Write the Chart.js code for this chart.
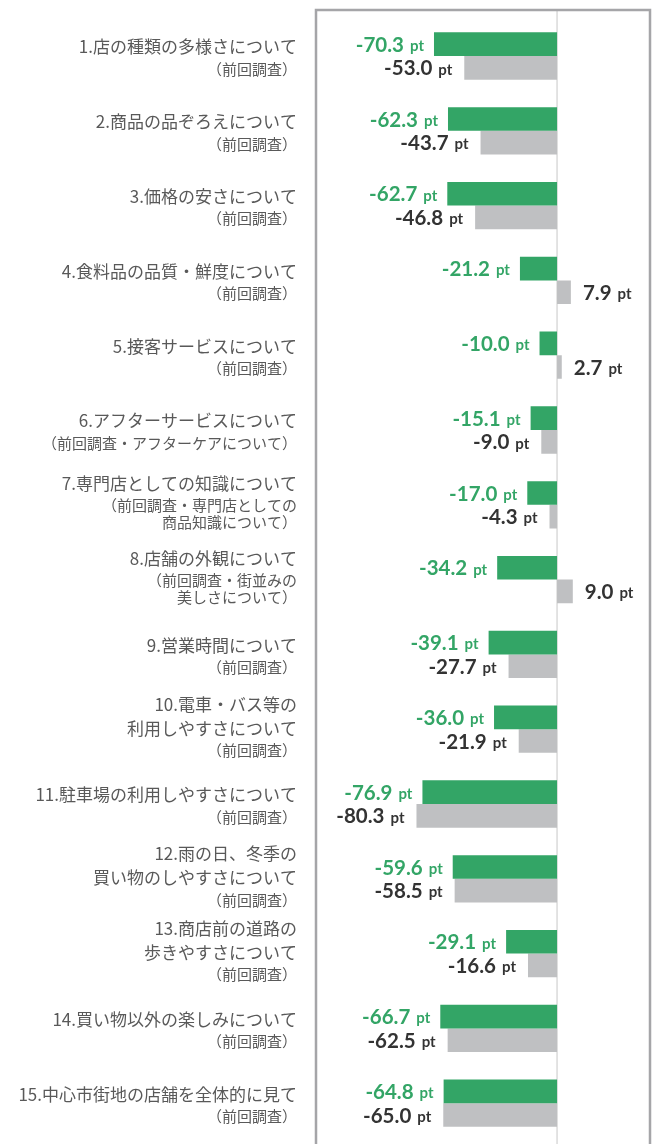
<!DOCTYPE html>
<html>
<head>
<meta charset="utf-8">
<script src="https://cdn.jsdelivr.net/npm/chart.js@4"></script>
<style>
    body { margin: 0; background: #ffffff; }
    canvas { display: block; }
</style>
</head>
<body>
<canvas id="chart" width="655" height="1144"></canvas>
<script>
// category labels (main line(s) and the "previous survey" sub line(s))
const mainLabels = [
    ["1.店の種類の多様さについて"],
    ["2.商品の品ぞろえについて"],
    ["3.価格の安さについて"],
    ["4.食料品の品質・鮮度について"],
    ["5.接客サービスについて"],
    ["6.アフターサービスについて"],
    ["7.専門店としての知識について"],
    ["8.店舗の外観について"],
    ["9.営業時間について"],
    ["10.電車・バス等の", "利用しやすさについて"],
    ["11.駐車場の利用しやすさについて"],
    ["12.雨の日、冬季の", "買い物のしやすさについて"],
    ["13.商店前の道路の", "歩きやすさについて"],
    ["14.買い物以外の楽しみについて"],
    ["15.中心市街地の店舗を全体的に見て"]
];
const subLabels = [
    ["（前回調査）"],
    ["（前回調査）"],
    ["（前回調査）"],
    ["（前回調査）"],
    ["（前回調査）"],
    ["（前回調査・アフターケアについて）"],
    ["（前回調査・専門店としての", "商品知識について）"],
    ["（前回調査・街並みの", "美しさについて）"],
    ["（前回調査）"],
    ["（前回調査）"],
    ["（前回調査）"],
    ["（前回調査）"],
    ["（前回調査）"],
    ["（前回調査）"],
    ["（前回調査）"]
];

// DI values (pt)
const currentValues = [-70.3, -62.3, -62.7, -21.2, -10.0, -15.1, -17.0, -34.2, -39.1, -36.0, -76.9, -59.6, -29.1, -66.7, -64.8];
const previousValues = [-53.0, -43.7, -46.8, 7.9, 2.7, -9.0, -4.3, 9.0, -27.7, -21.9, -80.3, -58.5, -16.6, -62.5, -65.0];

const GREEN = "#33a566";
const GRAY = "#bfc0c2";
const TEXT_GRAY = "#595959";
const VALUE_DARK = "#333333";

// frame around the plot + zero line
const framePlugin = {
    id: "frame",
    beforeDatasetsDraw(chart) {
        const { ctx, chartArea, scales } = chart;
        const x0 = scales.x.getPixelForValue(0);
        ctx.save();
        ctx.strokeStyle = "#dadada";
        ctx.lineWidth = 1.5;
        ctx.beginPath();
        ctx.moveTo(x0, 11);
        ctx.lineTo(x0, chart.height);
        ctx.stroke();

        ctx.strokeStyle = "#a5a5a8";
        ctx.lineWidth = 2.5;
        ctx.beginPath();
        ctx.moveTo(chartArea.left, chart.height);
        ctx.lineTo(chartArea.left, 10);
        ctx.lineTo(chartArea.right, 10);
        ctx.lineTo(chartArea.right, chart.height);
        ctx.stroke();
        ctx.restore();
    }
};

// value labels "-70.3 pt" next to each bar
const valueLabelPlugin = {
    id: "valueLabels",
    afterDatasetsDraw(chart) {
        const { ctx } = chart;
        ctx.save();
        ctx.textBaseline = "middle";
        chart.data.datasets.forEach(function(ds, di) {
            const meta = chart.getDatasetMeta(di);
            meta.data.forEach(function(bar, i) {
                const v = ds.data[i];
                const num = v.toFixed(1);
                ctx.fillStyle = di === 0 ? GREEN : VALUE_DARK;
                const numFont = "bold 20.5px Lato";
                const ptFont = "bold 15px Lato";
                ctx.font = ptFont;
                const ptW = ctx.measureText("pt").width;
                ctx.font = numFont;
                const numW = ctx.measureText(num).width;
                const y = bar.y + 1;
                if (v < 0) {
                    const gap = di === 0 ? 10 : 12;
                    const right = bar.x - gap;
                    ctx.textAlign = "right";
                    ctx.font = ptFont;
                    ctx.fillText("pt", right, y + 1);
                    ctx.font = numFont;
                    ctx.fillText(num, right - ptW - 6, y);
                } else {
                    const left = bar.x + 12;
                    ctx.textAlign = "left";
                    ctx.font = numFont;
                    ctx.fillText(num, left, y);
                    ctx.font = ptFont;
                    ctx.fillText("pt", left + numW + 6, y + 1);
                }
            });
        });
        ctx.restore();
    }
};

// category labels on the left, two font sizes
const categoryLabelPlugin = {
    id: "categoryLabels",
    afterDraw(chart) {
        const { ctx, scales } = chart;
        const right = 297;
        ctx.save();
        ctx.textAlign = "right";
        ctx.textBaseline = "middle";
        ctx.fillStyle = TEXT_GRAY;
        mainLabels.forEach(function(main, i) {
            const c = scales.y.getPixelForValue(i);
            const lines = main.map(t => ({ text: t, sub: false }))
                .concat(subLabels[i].map(t => ({ text: t, sub: true })));
            // offsets between line centres
            const ys = [0];
            for (let k = 1; k < lines.length; k++) {
                let step = 24;
                if (lines[k].sub && !lines[k - 1].sub) step = 22;
                if (lines[k].sub && lines[k - 1].sub) step = 17;
                ys.push(ys[k - 1] + step);
            }
            const span = ys[ys.length - 1];
            const shift = lines.length === 2 ? 2 : -2;
            const start = c + shift - span / 2;
            lines.forEach(function(line, k) {
                ctx.font = line.sub ? "15px 'Noto Sans CJK JP'" : "17px 'Noto Sans CJK JP'";
                ctx.fillText(line.text, right, start + ys[k]);
            });
        });
        ctx.restore();
    }
};

function createChart(ctx) {
    const labels = mainLabels.map(l => l.join(""));
    const graph = new Chart(ctx, {
        type: "bar",
        data: {
            labels: labels,
            datasets: [{
                label: "今回調査",
                data: currentValues,
                backgroundColor: GREEN,
                borderWidth: 0,
                categoryPercentage: 0.633,
                barPercentage: 1.0
            }, {
                label: "前回調査",
                data: previousValues,
                backgroundColor: GRAY,
                borderWidth: 0,
                categoryPercentage: 0.633,
                barPercentage: 1.0
            }]
        },
        options: {
            indexAxis: "y",
            responsive: false,
            animation: false,
            layout: {
                padding: { left: 316, right: 5, top: 18.6, bottom: 3.4 }
            },
            scales: {
                x: {
                    display: false,
                    min: -137.7,
                    max: 53.1
                },
                y: {
                    display: false
                }
            },
            plugins: {
                legend: { display: false },
                tooltip: { enabled: false }
            }
        },
        plugins: [framePlugin, valueLabelPlugin, categoryLabelPlugin]
    });
    return graph;
}

createChart(document.getElementById("chart"));
</script>
</body>
</html>
